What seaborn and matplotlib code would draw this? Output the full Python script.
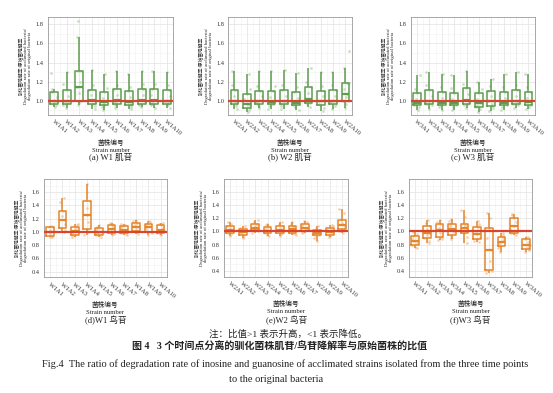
import numpy as np
import pandas as pd
import seaborn as sns
import matplotlib.pyplot as plt
from matplotlib.ticker import MultipleLocator

# ratio values (acclimated / original degradation rate)
w1_inosine = [
    [0.93, 0.95, 0.96, 0.98, 1.00, 1.04, 1.09, 1.12, 1.29],
    [0.92, 0.95, 0.96, 0.98, 1.00, 1.05, 1.11, 1.18, 1.30],
    [0.95, 0.98, 1.00, 1.00, 1.08, 1.14, 1.20, 1.31, 1.31, 1.67, 1.83],
    [0.91, 0.94, 0.96, 0.98, 1.01, 1.06, 1.11, 1.16, 1.32],
    [0.90, 0.93, 0.95, 0.97, 0.99, 1.03, 1.09, 1.13, 1.28],
    [0.92, 0.95, 0.97, 0.99, 1.01, 1.06, 1.12, 1.16, 1.31],
    [0.91, 0.93, 0.95, 0.97, 0.99, 1.04, 1.10, 1.14, 1.28],
    [0.93, 0.95, 0.97, 0.99, 1.01, 1.06, 1.12, 1.18, 1.31],
    [0.92, 0.95, 0.96, 0.98, 1.01, 1.06, 1.12, 1.17, 1.31],
    [0.92, 0.95, 0.97, 0.98, 1.00, 1.05, 1.11, 1.16, 1.30],
]
w2_inosine = [
    [0.91, 0.94, 0.96, 0.98, 1.00, 1.05, 1.11, 1.16, 1.31],
    [0.88, 0.90, 0.92, 0.95, 0.97, 1.02, 1.07, 1.12, 1.28],
    [0.92, 0.94, 0.96, 0.98, 1.00, 1.05, 1.10, 1.15, 1.31],
    [0.91, 0.94, 0.96, 0.97, 0.99, 1.04, 1.10, 1.15, 1.31],
    [0.91, 0.94, 0.96, 0.98, 1.00, 1.05, 1.11, 1.16, 1.32],
    [0.90, 0.93, 0.95, 0.96, 0.98, 1.03, 1.09, 1.14, 1.29],
    [0.93, 0.96, 0.98, 1.00, 1.02, 1.08, 1.14, 1.20, 1.34],
    [0.89, 0.92, 0.95, 0.97, 1.00, 1.05, 1.10, 1.15, 1.30],
    [0.91, 0.94, 0.96, 0.98, 1.00, 1.05, 1.11, 1.16, 1.30],
    [0.92, 0.96, 1.00, 1.00, 1.04, 1.07, 1.12, 1.19, 1.19, 1.34, 1.52],
]
w3_inosine = [
    [0.90, 0.93, 0.95, 0.96, 0.98, 1.02, 1.08, 1.12, 1.27],
    [0.91, 0.95, 0.97, 0.98, 1.00, 1.05, 1.11, 1.16, 1.30],
    [0.90, 0.93, 0.95, 0.96, 0.98, 1.03, 1.09, 1.14, 1.28],
    [0.90, 0.93, 0.95, 0.96, 0.98, 1.02, 1.08, 1.13, 1.27],
    [0.92, 0.95, 0.97, 0.99, 1.01, 1.07, 1.13, 1.18, 1.31],
    [0.88, 0.91, 0.93, 0.95, 0.98, 1.02, 1.08, 1.12, 1.20],
    [0.89, 0.92, 0.94, 0.97, 1.00, 1.05, 1.10, 1.15, 1.23],
    [0.90, 0.93, 0.95, 0.96, 0.98, 1.03, 1.09, 1.14, 1.28],
    [0.92, 0.95, 0.97, 0.98, 1.00, 1.05, 1.11, 1.16, 1.30],
    [0.91, 0.93, 0.95, 0.97, 0.99, 1.03, 1.09, 1.14, 1.28],
]
w1_guanosine = [
    [0.92, 0.93, 0.94, 0.97, 1.00, 1.03, 1.07, 1.08, 1.09],
    [1.00, 1.03, 1.06, 1.12, 1.18, 1.24, 1.31, 1.45, 1.52],
    [0.93, 0.95, 0.96, 0.99, 1.02, 1.05, 1.08, 1.10, 1.12],
    [0.96, 1.00, 1.05, 1.15, 1.26, 1.36, 1.47, 1.60, 1.72],
    [0.93, 0.95, 0.96, 0.98, 1.00, 1.03, 1.06, 1.08, 1.10],
    [0.95, 0.97, 0.99, 1.01, 1.04, 1.07, 1.10, 1.12, 1.14],
    [0.95, 0.97, 0.99, 1.01, 1.03, 1.06, 1.09, 1.11, 1.12],
    [0.97, 1.00, 1.02, 1.05, 1.08, 1.10, 1.13, 1.16, 1.18],
    [0.96, 0.98, 1.00, 1.04, 1.07, 1.09, 1.12, 1.15, 1.17],
    [0.95, 0.97, 0.99, 1.01, 1.03, 1.06, 1.10, 1.12, 1.14],
]
w2_guanosine = [
    [0.93, 0.96, 0.98, 1.00, 1.02, 1.05, 1.08, 1.11, 1.14],
    [0.90, 0.92, 0.94, 0.97, 0.99, 1.01, 1.04, 1.06, 1.08],
    [0.97, 1.00, 1.02, 1.04, 1.06, 1.09, 1.12, 1.15, 1.17],
    [0.93, 0.95, 0.97, 0.99, 1.01, 1.04, 1.07, 1.10, 1.12],
    [0.93, 0.96, 0.98, 1.00, 1.02, 1.05, 1.08, 1.11, 1.14],
    [0.94, 0.96, 0.98, 1.01, 1.03, 1.05, 1.08, 1.11, 1.14],
    [0.97, 0.99, 1.01, 1.04, 1.06, 1.08, 1.11, 1.14, 1.16],
    [0.86, 0.90, 0.94, 0.95, 0.97, 0.99, 1.02, 1.05, 1.08],
    [0.91, 0.93, 0.95, 0.97, 0.99, 1.02, 1.05, 1.08, 1.10],
    [0.98, 1.01, 1.04, 1.07, 1.10, 1.13, 1.17, 1.28, 1.35],
]
w3_guanosine = [
    [0.74, 0.77, 0.79, 0.83, 0.86, 0.89, 0.93, 0.96, 0.99],
    [0.82, 0.86, 0.90, 0.94, 0.98, 1.03, 1.08, 1.13, 1.18],
    [0.87, 0.89, 0.92, 0.97, 1.02, 1.06, 1.11, 1.15, 1.18],
    [0.88, 0.91, 0.94, 0.99, 1.04, 1.08, 1.12, 1.16, 1.19],
    [0.83, 0.92, 0.98, 1.01, 1.05, 1.08, 1.12, 1.22, 1.32],
    [0.84, 0.86, 0.88, 0.92, 0.96, 1.01, 1.07, 1.12, 1.16],
    [0.37, 0.39, 0.41, 0.55, 0.71, 0.90, 1.06, 1.20, 1.28],
    [0.68, 0.74, 0.78, 0.81, 0.84, 0.87, 0.91, 0.94, 0.97],
    [0.95, 0.97, 0.98, 1.03, 1.09, 1.15, 1.21, 1.25, 1.27],
    [0.69, 0.71, 0.73, 0.77, 0.80, 0.84, 0.89, 0.91, 0.92],
]

captions = ['(a) W1 肌苷', '(b) W2 肌苷', '(c) W3 肌苷',
            '(d)W1 鸟苷', '(e)W2 鸟苷', '(f)W3 鸟苷']

GREEN = '#5e9c50'
GREEN_PT = '#a4cf98'
ORANGE = '#e3862c'
ORANGE_PT = '#f2b680'
RED = '#d9432f'

YLABEL = ('驯化菌降解率/原始菌降解率\n'
          'Degradation rate of acclimated bacteria/\n'
          'degradation rate of original bacteria')


def to_long(groups, prefix):
    rows = []
    for i, vals in enumerate(groups):
        for v in vals:
            rows.append((prefix + 'A' + str(i + 1), v))
    return pd.DataFrame(rows, columns=['strain', 'ratio'])


sns.set_theme(style='whitegrid')
plt.rcParams['font.family'] = ['Liberation Serif', 'Noto Sans CJK SC']
plt.rcParams['axes.unicode_minus'] = False
np.random.seed(3)

fig = plt.figure(figsize=(5.53, 3.93), dpi=100)

panels = [
    ([0.0868, 0.7074, 0.2260, 0.2501], w1_inosine, 'W1', GREEN, GREEN_PT, 'top'),
    ([0.4128, 0.7074, 0.2231, 0.2501], w2_inosine, 'W2', GREEN, GREEN_PT, 'top'),
    ([0.7427, 0.7074, 0.2242, 0.2501], w3_inosine, 'W3', GREEN, GREEN_PT, 'top'),
    ([0.0796, 0.2939, 0.2219, 0.2506], w1_guanosine, 'W1', ORANGE, ORANGE_PT, 'bot'),
    ([0.4051, 0.2960, 0.2248, 0.2485], w2_guanosine, 'W2', ORANGE, ORANGE_PT, 'bot'),
    ([0.7391, 0.2960, 0.2235, 0.2485], w3_guanosine, 'W3', ORANGE, ORANGE_PT, 'bot'),
]

for k, (rect, groups, prefix, col, ptcol, row) in enumerate(panels):
    ax = fig.add_axes(rect)
    df = to_long(groups, prefix)
    order = [prefix + 'A' + str(i + 1) for i in range(len(groups))]

    sns.stripplot(data=df, x='strain', y='ratio', order=order, ax=ax,
                  color=ptcol, size=2.0, alpha=0.6, jitter=0.28, zorder=1)
    sns.boxplot(data=df, x='strain', y='ratio', order=order, ax=ax,
                fill=False, color=col, width=0.62, linewidth=1.1,
                showcaps=False, showfliers=False,
                medianprops={'linewidth': 1.6})
    ax.axhline(1.0, color=RED, lw=1.6, zorder=4)

    if row == 'top':
        ax.set_ylim(0.85, 1.88)
        ax.set_yticks([1.0, 1.2, 1.4, 1.6, 1.8])
    else:
        ax.set_ylim(0.31, 1.80)
        ax.set_yticks([0.4, 0.6, 0.8, 1.0, 1.2, 1.4, 1.6])
    ax.set_xlim(-0.5, len(groups) - 0.5)
    ax.yaxis.set_minor_locator(MultipleLocator(0.1))
    ax.xaxis.set_minor_locator(MultipleLocator(0.5))
    ax.grid(which='major', color='#e2e2e2', lw=0.5)
    ax.grid(which='minor', color='#f1f1f1', lw=0.4)
    ax.set_axisbelow(True)

    ax.set_xticks(range(len(order)))
    ax.set_xticklabels(order, rotation=-40, ha='left', rotation_mode='anchor')
    ax.tick_params(axis='both', labelsize=4.6, length=1.8, width=0.4,
                   pad=1.2, color='#666666', labelcolor='#333333')
    ax.tick_params(which='minor', length=0)
    for s in ax.spines.values():
        s.set_color('#9a9a9a')
        s.set_linewidth(0.6)

    ax.set_xlabel('菌株编号\nStrain number', fontsize=4.8, labelpad=2,
                  linespacing=1.5, color='#222222')
    ax.set_ylabel(YLABEL, fontsize=3.4, labelpad=2.5, linespacing=1.0,
                  color='#222222')

    cx = rect[0] + rect[2] / 2
    cy = 1 - 157 / 393 if row == 'top' else 1 - 320 / 393
    fig.text(cx, cy, captions[k], ha='center', va='center', fontsize=6.2,
             color='#222222')

fig.text(0.52, 1 - 334 / 393, '注：比值>1 表示升高，<1 表示降低。', ha='center',
         va='center', fontsize=6.8, color='#222222')
fig.text(0.505, 1 - 347 / 393,
         '图 4   3 个时间点分离的驯化菌株肌苷/鸟苷降解率与原始菌株的比值',
         ha='center', va='center', fontsize=7.2, fontweight='bold',
         color='#222222')
fig.text(0.515, 1 - 364 / 393,
         'Fig.4  The ratio of degradation rate of inosine and guanosine of '
         'acclimated strains isolated from the three time points',
         ha='center', va='center', fontsize=7.5, color='#222222')
fig.text(0.5, 1 - 379 / 393, 'to the original bacteria', ha='center',
         va='center', fontsize=7.5, color='#222222')

fig.savefig('out.png', dpi=100)
